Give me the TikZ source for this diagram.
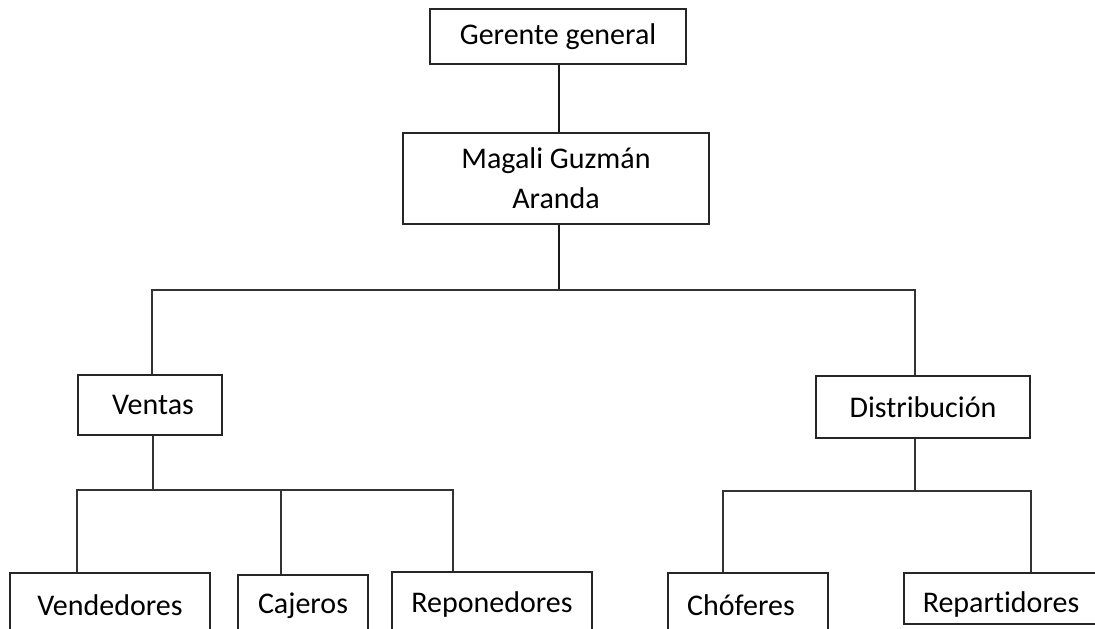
\documentclass[tikz,border=0pt]{standalone}
\usepackage{fontspec}
\setmainfont{Carlito}[Ligatures=NoCommon]
\begin{document}
\begin{tikzpicture}[x=1pt,y=-1pt,
  box/.style={draw=black!85, line width=1.3pt, inner sep=0pt, align=center,
    font=\fontsize{30}{40}\selectfont},
  conn/.style={draw=black!80, line width=1.4pt},
  thickconn/.style={draw=black!90, line width=2.2pt}]
\useasboundingbox (0,0) rectangle (1095,629);
\clip (0,0) rectangle (1095,629);
% boxes
\node[box, minimum width=256, minimum height=55] (ger) at (558,36.5) {Gerente general};
\node[box, minimum width=306, minimum height=91] (mag) at (556,178.5) {Magali Guzmán\\Aranda};
\node[box, minimum width=144, minimum height=60] (ven) at (150,405) {\hspace*{6pt}Ventas};
\node[box, minimum width=214, minimum height=62] (dis) at (923,407) {Distribución};
\node[box, minimum width=200, minimum height=64] (vend) at (110,605) {Vendedores};
\node[box, minimum width=130, minimum height=62] (caj) at (303,606) {Cajeros};
\node[box, minimum width=200, minimum height=65] (rep) at (492,604.5) {Reponedores};
\node[box, minimum width=160, minimum height=64] (cho) at (748,605) {\hspace*{-14pt}Chóferes};
\node[box, minimum width=194, minimum height=51, text height=33pt, text depth=6pt] (rpt) at (1001,598.5) {Repartidores};
% junctions
\coordinate (jtop) at (559,290);
\coordinate (tl) at (152,290);
\coordinate (tr) at (915,290);
\coordinate (vj) at (153,490);
\coordinate (vl) at (77,490);
\coordinate (vm) at (281,490);
\coordinate (vr) at (453,490);
\coordinate (dj) at (915,491);
\coordinate (dl) at (723,491);
\coordinate (dr) at (1031,491);
% connectors
\draw[thickconn] (ger.south -| jtop) -- (mag.north -| jtop);
\draw[thickconn] (mag.south -| jtop) -- (jtop);
\draw[conn] (ven.north -| tl) -- (tl) -- (tr) -- (dis.north -| tr);
\draw[conn] (ven.south -| vj) -- (vj);
\draw[conn] (vend.north -| vl) -- (vl) -- (vr) -- (rep.north -| vr);
\draw[conn] (vm) -- (caj.north -| vm);
\draw[conn] (dis.south -| dj) -- (dj);
\draw[conn] (cho.north -| dl) -- (dl) -- (dr) -- (rpt.north -| dr);
\end{tikzpicture}
\end{document}
